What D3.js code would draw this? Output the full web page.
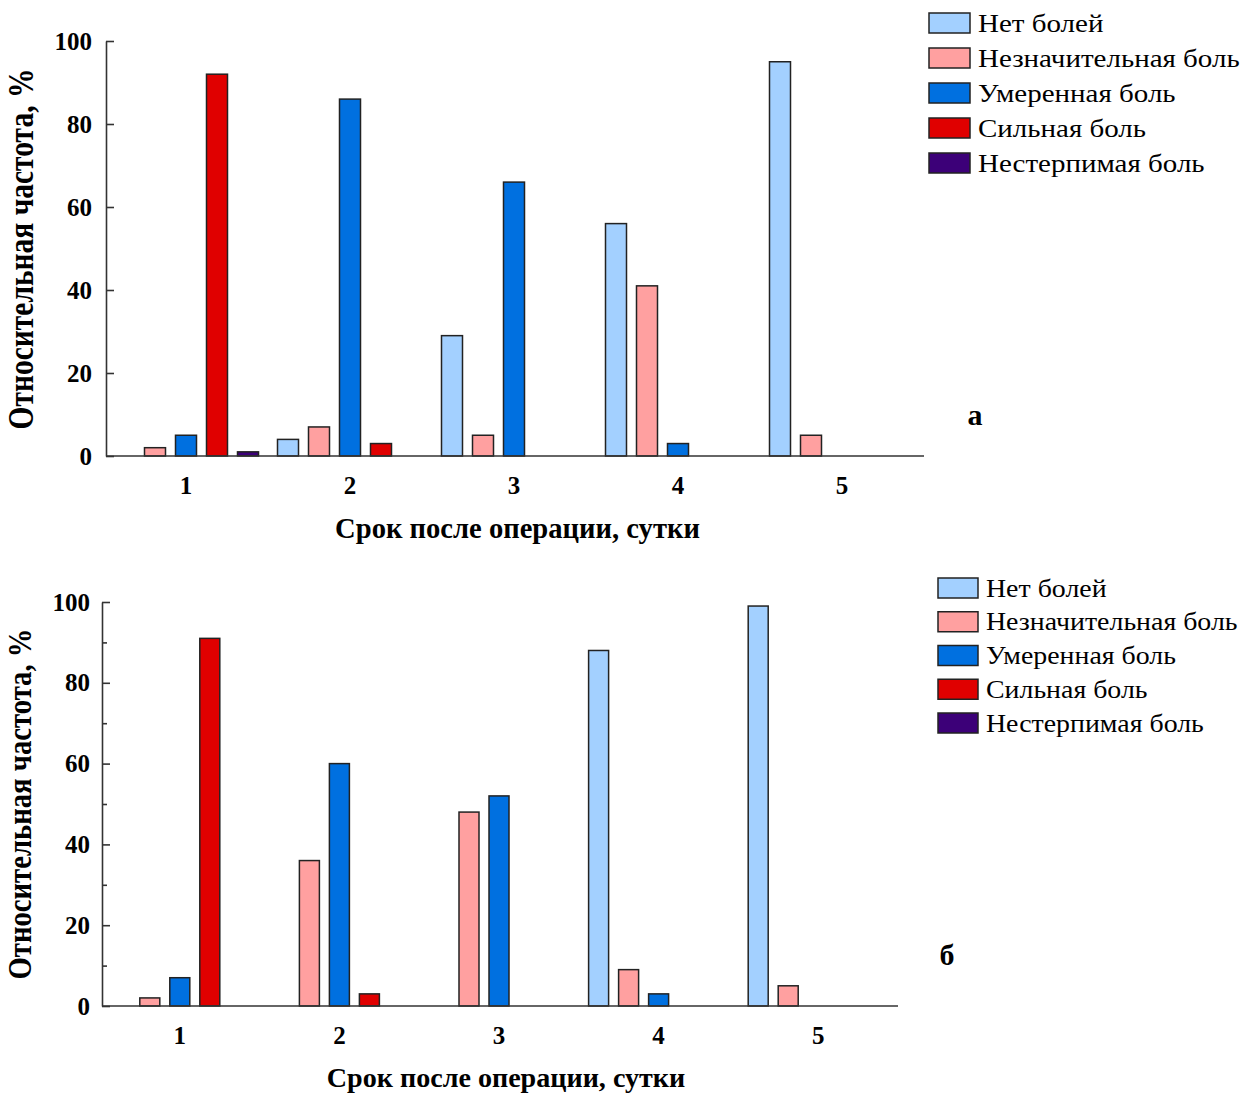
<!DOCTYPE html>
<html><head><meta charset="utf-8">
<script src="https://cdn.jsdelivr.net/npm/d3@7"></script>
<style>
body{margin:0;background:#fff;}
text{font-family:"Liberation Serif","Times New Roman",serif;fill:#000;}
</style></head>
<body>
<svg id="chart" width="1248" height="1093"></svg>
<script>
// ---- data ----
const days = ["1", "2", "3", "4", "5"];
const categories = ["Нет болей", "Незначительная боль", "Умеренная боль", "Сильная боль", "Нестерпимая боль"];
const yTicks = [0, 20, 40, 60, 80, 100];
const yMinorTicks = [10, 30, 50, 70, 90];

// panel а
const aNoPain       = [0, 4, 29, 56, 95];
const aSlight       = [2, 7, 5, 41, 5];
const aModerate     = [5, 86, 66, 3, 0];
const aStrong       = [92, 3, 0, 0, 0];
const aUnbearable   = [1, 0, 0, 0, 0];

// panel б
const bNoPain       = [0, 0, 0, 88, 99];
const bSlight       = [2, 36, 48, 9, 5];
const bModerate     = [7, 60, 52, 3, 0];
const bStrong       = [91, 3, 0, 0, 0];
const bUnbearable   = [0, 0, 0, 0, 0];

const colors = ["#a3d0ff", "#ffa0a0", "#0070e0", "#e00000", "#3c0078"];

const svg = d3.select("#chart");
const font = '"Liberation Serif","Times New Roman",serif';

function panel(o) {
  const series = o.series;
  const x = d3.scaleBand().domain(days).range([o.x0, o.x1]);
  const y = d3.scaleLinear().domain([0, 100]).range([o.y0, o.y1]);
  const slot = d3.scaleBand().domain(d3.range(categories.length))
      .range([0, o.slotW * categories.length]);
  const g = svg.append("g");

  // bars
  series.forEach((vals, si) => {
    g.selectAll(null).data(vals.map((v, i) => ({v, day: days[i]})).filter(d => d.v > 0))
      .enter().append("rect")
      .attr("x", d => x(d.day) + x.bandwidth() / 2 - o.slotW * categories.length / 2 + slot(si) + (o.slotW - o.barW) / 2)
      .attr("y", d => y(d.v))
      .attr("width", o.barW)
      .attr("height", d => y(0) - y(d.v))
      .attr("fill", colors[si])
      .attr("stroke", "#222")
      .attr("stroke-width", 1.5);
  });

  // y axis
  const ya = g.append("g").attr("transform", `translate(${o.x0 + 2},0)`)
    .call(d3.axisLeft(y).tickValues(yTicks).tickSize(-8).tickPadding(o.yPad).tickSizeOuter(0));
  if (o.minor) {
    g.append("g").attr("transform", `translate(${o.x0 + 2},0)`)
      .call(d3.axisLeft(y).tickValues(yMinorTicks).tickSize(-5).tickFormat("").tickSizeOuter(0))
      .call(s => s.select(".domain").remove());
  }
  g.selectAll("g .tick line, g .domain").attr("stroke", "#333").attr("stroke-width", 1.6);
  ya.selectAll("text").style("font-family", font).style("font-size", "25px").style("font-weight", "bold").attr("fill", "#000");

  // x axis
  const xa = g.append("g").attr("transform", `translate(0,${o.y0})`)
    .call(d3.axisBottom(x).tickSize(0).tickPadding(o.xPad));
  xa.select(".domain").attr("stroke", "#333").attr("stroke-width", 1.6)
    .attr("d", `M${o.x0 + 2},0H${o.x1}`);
  xa.selectAll("text").style("font-family", font).style("font-size", "25px").style("font-weight", "bold").attr("fill", "#000");

  // titles
  g.append("text").attr("x", o.xtX).attr("y", o.xtY)
    .attr("text-anchor", "middle").style("font-size", o.xtSize + "px").style("font-weight", "bold")
    .text("Срок после операции, сутки");
  g.append("text").attr("transform", `translate(${o.ytX},${o.ytY}) scale(1.2,1) rotate(-90)`)
    .attr("text-anchor", "middle").style("font-size", o.ytSize + "px").style("font-weight", "bold")
    .text("Относительная частота, %");

  // panel letter
  g.append("text").attr("x", o.lx).attr("y", o.ly).attr("text-anchor", "middle")
    .style("font-size", "30px").style("font-weight", "bold").text(o.letter);

  // legend
  const lg = g.append("g");
  categories.forEach((c, i) => {
    const yy = o.legY + i * o.legStep;
    lg.append("rect").attr("x", o.legX).attr("y", yy - 10).attr("width", o.legBoxW).attr("height", 20)
      .attr("fill", colors[i]).attr("stroke", "#222").attr("stroke-width", 1.5);
    lg.append("text").attr("transform", `translate(${o.legX + o.legBoxW + 8},${yy + 8.5}) scale(${o.legSx},1)`)
      .style("font-size", "25px").text(c);
  });
}

panel({
  series: [aNoPain, aSlight, aModerate, aStrong, aUnbearable],
  x0: 104, x1: 924, y0: 456, y1: 41, slotW: 31, barW: 21, minor: false,
  yPad: 14, xPad: 20,
  xtX: 517.5, xtY: 538, xtSize: 28.6,
  ytX: 33, ytY: 249, ytSize: 29.5,
  letter: "а", lx: 975, ly: 425,
  legX: 929, legY: 23, legStep: 35, legBoxW: 41, legSx: 1.16
});

panel({
  series: [bNoPain, bSlight, bModerate, bStrong, bUnbearable],
  x0: 100, x1: 898, y0: 1006, y1: 602, slotW: 30, barW: 20, minor: true,
  yPad: 12, xPad: 20,
  xtX: 506, xtY: 1087, xtSize: 28.1,
  ytX: 31, ytY: 804, ytSize: 28.7,
  letter: "б", lx: 947, ly: 965,
  legX: 938, legY: 588, legStep: 33.75, legBoxW: 40, legSx: 1.115
});
</script>
</body></html>
